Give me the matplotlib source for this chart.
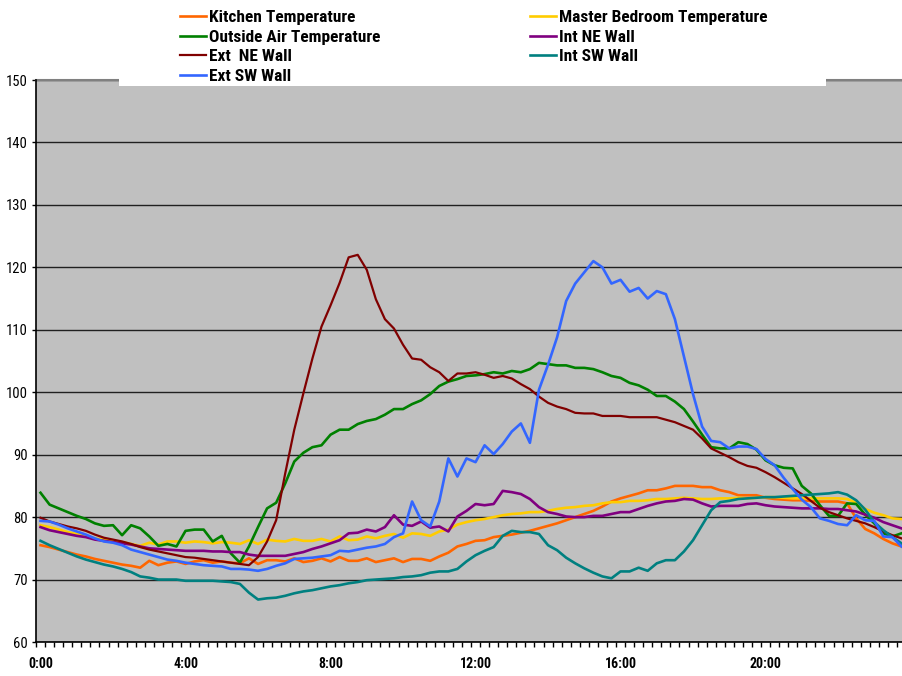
import matplotlib
matplotlib.use("Agg")
import matplotlib.pyplot as plt
from matplotlib import font_manager
from matplotlib.patches import Rectangle
from matplotlib.ticker import FixedLocator, MultipleLocator

# the original uses Arial Narrow; use a narrow face if one is installed
installed = {f.name for f in font_manager.fontManager.ttflist}
narrow = None
for cand in ['Liberation Sans Narrow', 'Arial Narrow', 'Roboto Condensed']:
    if cand in installed:
        narrow = cand
        break
if narrow:
    plt.rcParams['font.family'] = [narrow, 'DejaVu Sans']
    legend_size, legend_spacing = 12.5, 0.25
else:
    plt.rcParams['font.family'] = ['Liberation Sans', 'DejaVu Sans']
    legend_size, legend_spacing = 10.8, 0.43

# 15-minute readings, 96 per day
n_points = 96
hour_labels = ['0:00', '4:00', '8:00', '12:00', '16:00', '20:00']
label_every = 16

kitchen = [75.5, 75.2, 74.8, 74.4, 74.0, 73.7, 73.3, 73.0,
           72.7, 72.4, 72.2, 71.9, 73.0, 72.3, 72.7, 72.9,
           72.5, 72.9, 73.1, 72.7, 72.9, 72.7, 72.6, 73.4,
           72.5, 73.1, 73.1, 72.9, 73.4, 72.8, 73.0, 73.4,
           72.9, 73.6, 73.0, 73.0, 73.4, 72.8, 73.1, 73.4,
           72.8, 73.3, 73.3, 73.0, 73.7, 74.3, 75.3, 75.7,
           76.2, 76.3, 76.8, 77.0, 77.2, 77.5, 77.8, 78.2,
           78.6, 79.0, 79.5, 80.0, 80.5, 81.0, 81.7, 82.5,
           83.0, 83.4, 83.8, 84.3, 84.3, 84.6, 85.0, 85.0,
           85.0, 84.8, 84.8, 84.3, 84.0, 83.5, 83.5, 83.5,
           83.1, 82.9, 82.8, 82.7, 82.7, 82.6, 82.5, 82.5,
           82.5, 82.2, 79.8, 78.1, 77.4, 76.5, 75.8, 75.3]

master_bedroom = [78.7, 78.4, 78.0, 77.6, 77.3, 77.0, 76.6, 76.4,
                  76.2, 76.0, 75.7, 75.4, 75.9, 75.6, 76.1, 76.1,
                  75.9, 76.1, 76.0, 75.8, 76.0, 75.9, 75.7, 76.3,
                  75.7, 76.4, 76.2, 76.1, 76.5, 76.2, 76.2, 76.5,
                  76.1, 76.9, 76.3, 76.4, 76.9, 76.6, 77.0, 77.3,
                  76.7, 77.4, 77.3, 77.0, 77.7, 78.0, 78.8, 79.2,
                  79.5, 79.7, 80.0, 80.3, 80.5, 80.6, 80.8, 80.8,
                  81.0, 81.3, 81.5, 81.6, 81.8, 81.9, 82.2, 82.4,
                  82.4, 82.6, 82.6, 82.7, 82.9, 82.9, 83.0, 83.1,
                  83.0, 82.9, 82.9, 83.0, 83.0, 83.1, 83.0, 83.1,
                  83.2, 83.2, 83.1, 83.0, 83.0, 83.0, 83.0, 83.0,
                  83.0, 82.9, 82.3, 81.3, 80.7, 80.3, 79.8, 79.7]

outside_air = [83.9, 82.0, 81.4, 80.8, 80.2, 79.7, 79.0, 78.6,
               78.7, 77.1, 78.7, 78.2, 76.9, 75.4, 75.7, 75.3,
               77.8, 78.0, 78.0, 76.1, 77.0, 74.2, 72.7, 75.3,
               78.4, 81.4, 82.3, 85.4, 88.9, 90.3, 91.2, 91.5,
               93.2, 94.0, 94.0, 94.9, 95.4, 95.7, 96.4, 97.3,
               97.3, 98.1, 98.7, 99.7, 101.0, 101.7, 102.1, 102.6,
               102.7, 102.9, 103.2, 103.0, 103.4, 103.2, 103.7, 104.7,
               104.5, 104.3, 104.3, 103.9, 103.9, 103.7, 103.2, 102.6,
               102.3, 101.5, 101.1, 100.4, 99.4, 99.4, 98.5, 97.3,
               95.3, 93.2, 91.2, 91.0, 91.0, 92.0, 91.7, 90.8,
               89.1, 88.3, 87.9, 87.8, 85.0, 83.8, 81.9, 80.2,
               80.2, 82.2, 82.1, 80.4, 79.0, 77.4, 76.9, 77.4]

int_ne_wall = [78.4, 77.9, 77.6, 77.3, 77.0, 76.8, 76.4, 76.2,
               76.0, 75.8, 75.6, 75.3, 75.0, 74.9, 74.8, 74.7,
               74.6, 74.6, 74.6, 74.5, 74.5, 74.4, 74.4, 74.0,
               73.8, 73.8, 73.8, 73.8, 74.1, 74.4, 74.9, 75.3,
               75.8, 76.3, 77.4, 77.5, 78.0, 77.7, 78.4, 80.3,
               78.8, 78.6, 79.3, 78.3, 78.5, 77.7, 80.1, 81.0,
               82.1, 81.9, 82.1, 84.2, 84.0, 83.7, 82.9, 81.6,
               80.8, 80.5, 80.1, 80.0, 80.0, 80.2, 80.2, 80.5,
               80.8, 80.8, 81.3, 81.8, 82.2, 82.5, 82.6, 82.9,
               82.8, 82.2, 81.7, 81.8, 81.8, 81.8, 82.1, 82.2,
               81.9, 81.7, 81.6, 81.5, 81.4, 81.4, 81.4, 81.3,
               81.3, 81.1, 80.9, 80.4, 79.9, 79.2, 78.7, 78.2]

ext_ne_wall = [79.9, 79.3, 78.9, 78.5, 78.2, 77.8, 77.2, 76.7,
               76.4, 76.1, 75.7, 75.2, 74.8, 74.5, 74.2, 73.9,
               73.6, 73.5, 73.3, 73.1, 72.9, 72.7, 72.5, 72.3,
               73.6, 76.1, 79.5, 87.0, 94.0, 99.8, 105.4, 110.5,
               113.9, 117.5, 121.6, 122.0, 119.6, 114.9, 111.7, 110.2,
               107.6, 105.4, 105.2, 104.0, 103.2, 101.8, 103.0, 103.0,
               103.2, 102.8, 102.3, 102.6, 102.2, 101.3, 100.5, 99.3,
               98.3, 97.7, 97.3, 96.7, 96.6, 96.6, 96.2, 96.2,
               96.2, 96.0, 96.0, 96.0, 96.0, 95.6, 95.2, 94.6,
               94.0, 92.6, 91.0, 90.3, 89.6, 88.8, 88.2, 87.9,
               87.2, 86.4, 85.5, 84.6, 83.7, 82.6, 81.5, 80.8,
               80.3, 79.8, 79.4, 79.0, 78.4, 77.7, 77.1, 76.6]

int_sw_wall = [76.2, 75.5, 74.9, 74.3, 73.7, 73.2, 72.8, 72.4,
               72.1, 71.7, 71.2, 70.5, 70.3, 70.0, 70.0, 70.0,
               69.8, 69.8, 69.8, 69.8, 69.7, 69.6, 69.3, 67.9,
               66.8, 67.0, 67.1, 67.4, 67.8, 68.1, 68.3, 68.6,
               68.9, 69.1, 69.4, 69.6, 69.9, 70.0, 70.1, 70.2,
               70.4, 70.5, 70.7, 71.1, 71.3, 71.3, 71.7, 72.9,
               73.9, 74.6, 75.2, 77.0, 77.8, 77.6, 77.6, 77.3,
               75.5, 74.7, 73.5, 72.6, 71.8, 71.1, 70.5, 70.2,
               71.3, 71.3, 71.9, 71.4, 72.6, 73.1, 73.1, 74.5,
               76.3, 78.7, 81.1, 82.4, 82.6, 82.9, 83.0, 83.1,
               83.2, 83.2, 83.3, 83.4, 83.5, 83.6, 83.7, 83.8,
               84.0, 83.6, 82.7, 81.2, 79.2, 77.9, 76.8, 75.8]

ext_sw_wall = [79.4, 79.3, 78.8, 78.2, 77.7, 77.2, 76.6, 76.1,
               75.9, 75.5, 74.8, 74.4, 74.0, 73.6, 73.2, 73.0,
               72.7, 72.5, 72.3, 72.2, 72.1, 71.7, 71.7, 71.6,
               71.4, 71.7, 72.2, 72.6, 73.3, 73.4, 73.5, 73.7,
               73.9, 74.6, 74.5, 74.8, 75.1, 75.3, 75.7, 76.8,
               77.4, 82.5, 79.5, 78.5, 82.5, 89.4, 86.5, 89.4,
               88.8, 91.5, 90.1, 91.7, 93.7, 95.0, 91.9, 100.4,
               104.4, 108.8, 114.6, 117.4, 119.2, 121.0, 120.0, 117.4,
               118.0, 116.1, 116.7, 115.0, 116.2, 115.7, 111.7, 105.7,
               99.7, 94.5, 92.2, 92.0, 91.0, 91.3, 91.3, 90.9,
               89.3, 88.3, 86.3, 84.5, 82.8, 81.6, 79.8, 79.4,
               78.9, 78.7, 80.3, 79.5, 79.4, 76.9, 76.8, 75.3]

series = [
    ('Kitchen Temperature', kitchen, '#FF6600', 1.9),
    ('Master Bedroom Temperature', master_bedroom, '#FFCC00', 1.9),
    ('Outside Air Temperature', outside_air, '#008000', 1.9),
    ('Int NE Wall', int_ne_wall, '#800080', 1.9),
    ('Ext  NE Wall', ext_ne_wall, '#800000', 1.6),
    ('Int SW Wall', int_sw_wall, '#008080', 1.9),
    ('Ext SW Wall', ext_sw_wall, '#3366FF', 1.9),
]

fig = plt.figure(figsize=(9.02, 6.76), dpi=100)
ax = fig.add_axes([36 / 902, 34 / 676, 870 / 902, 562 / 676])
ax.set_facecolor('#C0C0C0')

x = list(range(n_points))
lines = {}
for name, vals, color, lw in series:
    ln, = ax.plot(x, vals, color=color, lw=lw, label=name, solid_joinstyle='round')
    lines[name] = ln

ax.set_xlim(-0.5, n_points - 0.5)
ax.set_ylim(60, 150)
ax.yaxis.set_major_locator(MultipleLocator(10))
ax.grid(axis='y', color='#202020', lw=1.0)
ax.set_axisbelow(True)

ax.set_xticks(list(range(0, n_points, label_every)))
ax.set_xticklabels(hour_labels, fontweight='bold', fontsize=10)
ax.xaxis.set_minor_locator(FixedLocator([k - 0.5 for k in range(n_points + 1)]))
ax.tick_params(axis='x', which='major', length=0, pad=11)
ax.tick_params(axis='x', which='minor', length=3.5, width=1, color='black', direction='out')
ax.tick_params(axis='y', length=3, width=1, pad=3, labelsize=10.5)

for s in ['top', 'right']:
    ax.spines[s].set_visible(False)
ax.spines['left'].set_linewidth(1.2)
ax.spines['bottom'].set_linewidth(1.2)
ax.axhline(150, color='#808080', lw=1.5, clip_on=False)

# white legend area over the top of the plot
fig.patches.append(Rectangle((119 / 902, 1 - 86 / 676), 707 / 902, 86 / 676,
                             transform=fig.transFigure, facecolor='white',
                             edgecolor='none', zorder=3))

columns = [(180, ['Kitchen Temperature', 'Outside Air Temperature', 'Ext  NE Wall', 'Ext SW Wall']),
           (530, ['Master Bedroom Temperature', 'Int NE Wall', 'Int SW Wall'])]
for x_px, names in columns:
    leg = fig.legend([lines[k] for k in names], names, loc='upper left',
                     bbox_to_anchor=(x_px / 902, 1 - 10 / 676), frameon=False,
                     prop={'weight': 'bold', 'size': legend_size}, handlelength=1.5,
                     handletextpad=0.15, labelspacing=legend_spacing,
                     borderpad=0, borderaxespad=0)
    leg.set_zorder(5)

fig.savefig('out.png', dpi=100)
